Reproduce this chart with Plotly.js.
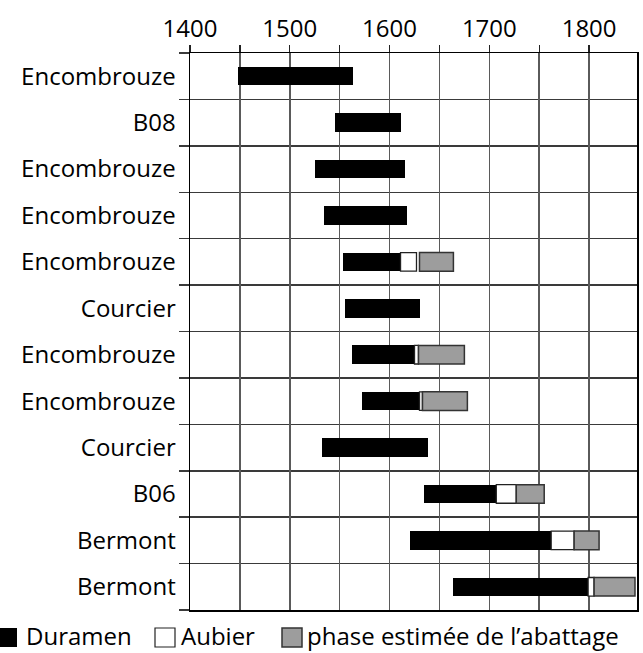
<!DOCTYPE html>
<html><head><meta charset="utf-8">
<script src="https://cdn.plot.ly/plotly-3.0.1.min.js"></script>
<style>html,body{margin:0;padding:0;background:#fff}</style>
</head><body><div id="chart" style="width:643px;height:653px"></div>
<script>
// Data (years)
const sites = ["Encombrouze","B08","Encombrouze","Encombrouze","Encombrouze","Courcier","Encombrouze","Encombrouze","Courcier","B06","Bermont","Bermont"];
const duramenStart = [1448,1545,1525,1534,1553,1555,1562,1572,1532,1635,1620,1664];
const duramenEnd   = [1563,1611,1615,1617,1611,1631,1625,1630,1639,1707,1762,1799];
const aubierEnd    = [null,null,null,null,1627,null,1629,1633,null,1727,1785,1805];
const phaseStart   = [null,null,null,null,1630,null,1629,1633,null,1727,1785,1805];
const phaseEnd     = [null,null,null,null,1664,null,1675,1678,null,1755,1810,1846];
const xTickVals = [1400,1450,1500,1550,1600,1650,1700,1750,1800];
const xTickText = ["1400","","1500","","1600","","1700","","1800"];
const legendLabels = ["Duramen","Aubier","phase estimée de l’abattage"];

const rows = sites.map((_, i) => i);
const diff = (a, b) => a.map((v, i) => (v == null || b[i] == null) ? null : v - b[i]);

const W = 643, H = 653, M = {l:190, r:6, t:53, b:43};
const px = x => (x - M.l) / (W - M.l - M.r);
const py = y => 1 - (y - M.t) / (H - M.t - M.b);

const barW = 0.4;
const traces = [
  {type:'bar', orientation:'h', y:rows, base:duramenStart, x:diff(duramenEnd, duramenStart),
   width:barW, marker:{color:'#000', line:{width:0}}, name:legendLabels[0]},
  {type:'bar', orientation:'h', y:rows, base:duramenEnd, x:diff(aubierEnd, duramenEnd),
   width:barW, marker:{color:'#fff', line:{color:'#222', width:1.3}}, name:legendLabels[1]},
  {type:'bar', orientation:'h', y:rows, base:phaseStart, x:diff(phaseEnd, phaseStart),
   width:barW, marker:{color:'#9d9d9d', line:{color:'#333', width:1.5}}, name:legendLabels[2]}
];

const half = [];
for (let k = -0.5; k <= sites.length - 0.5; k += 1) half.push(k);

const sqTop = 628, sqBot = 647;
const shapes = [
  {type:'rect', xref:'paper', yref:'paper', x0:px(0), x1:px(17), y0:py(sqBot), y1:py(sqTop), fillcolor:'#000', line:{width:0}},
  {type:'rect', xref:'paper', yref:'paper', x0:px(155), x1:px(175), y0:py(sqBot), y1:py(sqTop), fillcolor:'#fff', line:{color:'#222', width:1.2}},
  {type:'rect', xref:'paper', yref:'paper', x0:px(282), x1:px(302), y0:py(sqBot), y1:py(sqTop), fillcolor:'#9d9d9d', line:{color:'#333', width:1.5}}
];
const annotations = [
  {text:legendLabels[0], x:px(25)},
  {text:legendLabels[1], x:px(180)},
  {text:legendLabels[2], x:px(306)}
].map(a => Object.assign({xref:'paper', yref:'paper', y:py(653), xanchor:'left', yanchor:'bottom', showarrow:false,
  borderpad:0, font:{family:'Open Sans', size:24, color:'#000'}}, a));

const layout = {
  width:W, height:H, margin:M,
  paper_bgcolor:'#fff', plot_bgcolor:'#fff',
  font:{family:'Open Sans', size:24, color:'#000'},
  showlegend:false, barmode:'overlay', bargap:0,
  xaxis:{side:'top', range:[1400,1848], tickmode:'array', tickvals:xTickVals, ticktext:xTickText,
    ticks:'outside', ticklen:7, tickwidth:1.3, tickcolor:'#222', ticklabelstandoff:-2,
    showline:true, linecolor:'#000', linewidth:1.5, mirror:true,
    showgrid:true, gridcolor:'#5a5a5a', gridwidth:1.5, zeroline:false,
    tickfont:{family:'Open Sans', size:24, color:'#000'}, fixedrange:true},
  yaxis:{range:[sites.length - 0.5, -0.5], tickmode:'array', tickvals:rows, ticktext:sites,
    ticks:'', showgrid:false, zeroline:false,
    showline:true, linecolor:'#000', linewidth:1.5, mirror:true,
    tickfont:{family:'Open Sans', size:24, color:'#000'}, ticklabelstandoff:8,
    minor:{tickmode:'array', tickvals:half, ticks:'outside', ticklen:10, tickwidth:1.5, tickcolor:'#3a3a3a',
      showgrid:true, gridcolor:'#3a3a3a', gridwidth:1.5},
    fixedrange:true},
  shapes:shapes, annotations:annotations
};

Plotly.newPlot('chart', traces, layout, {staticPlot:true, displayModeBar:false});
</script>
</body></html>
